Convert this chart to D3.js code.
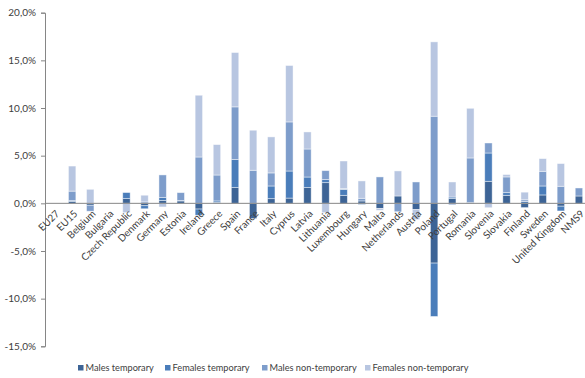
<!DOCTYPE html>
<html>
<head>
<meta charset="utf-8">
<script src="https://cdn.jsdelivr.net/npm/d3@7"></script>
<style>
  html, body { margin: 0; padding: 0; background: #fff; }
  svg { display: block; font-family: Lato, "Open Sans", sans-serif; }
</style>
</head>
<body>
<svg id="chart" width="585" height="378"></svg>
<script>
// Employment change by contract type and sex (percentage points)
const categories = ["EU27", "EU15", "Belgium", "Bulgaria", "Czech Republic", "Denmark", "Germany", "Estonia", "Ireland", "Greece", "Spain", "France", "Italy", "Cyprus", "Latvia", "Lithuania", "Luxembourg", "Hungary", "Malta", "Netherlands", "Austria", "Poland", "Portugal", "Romania", "Slovenia", "Slovakia", "Finland", "Sweden", "United Kingdom", "NMS9"];

const malesTemporary      = [0, 0.2, -0.2, 0, 0.5, -0.25, 0.3, 0.25, -0.6, 0.1, 1.65, -1.6, 0.49, 0.55, 1.65, 2.17, 0.84, 0.25, -0.53, 0.77, -0.66, -6.27, 0.5, 0.1, 2.31, 0.84, -0.45, 0.88, -0.3, 0.77];
const femalesTemporary    = [0, 0.1, 0, 0, 0.63, -0.32, 0.3, 0.05, -0.65, 0.15, 2.94, 0, 1.33, 2.84, 1.11, 0.32, 0.62, -0.12, 0, 0, 0, -5.6, 0.16, 0, 2.97, 0.28, 0.2, 0.94, -0.5, 0];
const malesNonTemporary   = [0, 0.98, -0.63, 0, 0, 0.15, 2.38, 0.82, 4.86, 2.72, 5.53, 3.47, 1.37, 5.15, 2.94, 0.94, 0.08, 0.28, 2.77, -0.88, 2.24, 9.14, -0.15, 4.66, 1.05, 1.65, 0.17, 1.54, 1.79, 0.84];
const femalesNonTemporary = [0, 2.63, 1.47, 0, -0.98, 0.7, -0.38, 0, 6.48, 3.19, 5.7, 4.2, 3.78, 5.92, 1.79, -0.98, 2.9, 1.82, -0.2, 2.63, -1.05, 7.8, 1.58, 5.21, -0.46, 0.25, 0.8, 1.33, 2.38, 0];

const seriesNames = ["Males temporary", "Females temporary", "Males non-temporary", "Females non-temporary"];
const seriesColors = ["#3d6496", "#4a7dba", "#7e9dcb", "#b8c6e1"];
const yTicks = [-15, -10, -5, 0, 5, 10, 15, 20];

const rows = categories.map((c, i) => ({
  category: c,
  "Males temporary": malesTemporary[i],
  "Females temporary": femalesTemporary[i],
  "Males non-temporary": malesNonTemporary[i],
  "Females non-temporary": femalesNonTemporary[i]
}));

const svg = d3.select("#chart");
const plotLeft = 45, plotRight = 588, plotTop = 12.7, plotBottom = 346.3;

const x = d3.scaleBand().domain(categories).range([plotLeft, plotRight]).paddingInner(0.59).paddingOuter(0.295);
const y = d3.scaleLinear().domain([-15, 20]).range([plotBottom, plotTop]);

const stacked = d3.stack().keys(seriesNames).offset(d3.stackOffsetDiverging)(rows);

// bars
svg.append("g")
  .selectAll("g")
  .data(stacked)
  .join("g")
  .attr("fill", (d, i) => seriesColors[i])
  .selectAll("rect")
  .data(d => d)
  .join("rect")
  .attr("x", d => x(d.data.category))
  .attr("width", x.bandwidth())
  .attr("y", d => y(Math.max(d[0], d[1])))
  .attr("height", d => Math.abs(y(d[0]) - y(d[1])))
  .attr("stroke", "#ffffff")
  .attr("stroke-opacity", 0.55)
  .attr("stroke-width", 0.8);

// y axis
const yAxis = svg.append("g")
  .attr("transform", `translate(${plotLeft},0)`)
  .call(d3.axisLeft(y).tickValues(yTicks).tickSize(4).tickPadding(5)
    .tickFormat(v => d3.format(".1f")(v).replace(".", ",").replace("−", "-") + "%"));
yAxis.select(".domain").attr("stroke", "#868686");
yAxis.selectAll(".tick line").attr("stroke", "#868686");
yAxis.selectAll(".tick text").attr("fill", "#404040").style("font-size", "10px")
  .style("font-family", "Lato, 'Open Sans', sans-serif");

// zero baseline with rotated category labels
const xAxis = svg.append("g")
  .attr("transform", `translate(0,${y(0)})`)
  .call(d3.axisBottom(x).tickSize(0).tickPadding(0));
xAxis.select(".domain").attr("stroke", "#868686").attr("d", `M${plotLeft},0H585`);
xAxis.selectAll(".tick text")
  .attr("fill", "#404040")
  .style("font-size", "10px")
  .style("font-family", "Lato, 'Open Sans', sans-serif")
  .attr("text-anchor", "end")
  .attr("dy", "0")
  .attr("transform", "translate(6,11) rotate(-45)");

// legend
const legendX = [78, 165, 262, 365];
const legend = svg.append("g");
seriesNames.forEach((name, i) => {
  legend.append("rect")
    .attr("x", legendX[i]).attr("y", 365)
    .attr("width", 5.5).attr("height", 5.5)
    .attr("fill", seriesColors[i]);
  legend.append("text")
    .attr("x", legendX[i] + 7.5).attr("y", 371)
    .attr("fill", "#404040")
    .style("font-size", "9.2px")
    .text(name);
});
</script>
</body>
</html>
